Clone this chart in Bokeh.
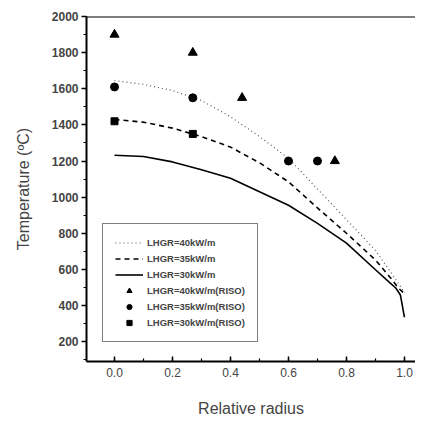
from bokeh.plotting import figure
from bokeh.models import Span, Legend, LegendItem, FixedTicker, PrintfTickFormatter
from bokeh.embed import file_html
from bokeh.resources import INLINE

# Model curves (relative radius vs temperature)
r40 = [0.0, 0.1, 0.2, 0.3, 0.4, 0.5, 0.6, 0.7, 0.8, 0.9, 0.95, 0.98, 1.0]
t40 = [1645, 1624, 1590, 1535, 1445, 1335, 1215, 1045, 875, 705, 590, 520, 470]

r35 = [0.0, 0.1, 0.2, 0.3, 0.4, 0.5, 0.6, 0.7, 0.8, 0.9, 0.95, 0.98, 1.0]
t35 = [1430, 1415, 1382, 1335, 1277, 1190, 1085, 940, 800, 652, 557, 495, 465]

r30 = [0.0, 0.1, 0.2, 0.3, 0.4, 0.5, 0.6, 0.7, 0.8, 0.9, 0.95, 0.97, 0.986, 0.997, 1.0]
t30 = [1232, 1225, 1195, 1152, 1105, 1030, 955, 855, 745, 598, 525, 497, 458, 360, 335]

# RISO measurements
x40m = [0.0, 0.27, 0.44, 0.76]
y40m = [1900, 1800, 1550, 1200]
x35m = [0.0, 0.27, 0.60, 0.70]
y35m = [1610, 1550, 1200, 1200]
x30m = [0.0, 0.27]
y30m = [1420, 1350]

xticks = [0.0, 0.2, 0.4, 0.6, 0.8, 1.0]
yticks = [200, 400, 600, 800, 1000, 1200, 1400, 1600, 1800, 2000]

labels = ["LHGR=40kW/m", "LHGR=35kW/m", "LHGR=30kW/m",
          "LHGR=40kW/m(RISO)", "LHGR=35kW/m(RISO)", "LHGR=30kW/m(RISO)"]

FONT = "Liberation Sans"

p = figure(width=415, height=419, output_backend="svg", toolbar_location=None,
           x_range=(-0.0966, 1.038), y_range=(90, 2000),
           min_border_left=86, min_border_right=0, min_border_top=16, min_border_bottom=57)
p.outline_line_color = None
p.xgrid.visible = False
p.ygrid.visible = False

l40 = p.line(r40, t40, line_color="#555555", line_width=1.2, line_dash="1 3")
l35 = p.line(r35, t35, line_color="black", line_width=1.6, line_dash="5 4")
l30 = p.line(r30, t30, line_color="black", line_width=1.6)
m40 = p.scatter(x40m, y40m, marker="triangle", size=9, color="black")
m35 = p.scatter(x35m, y35m, marker="circle", size=8, color="black")
m30 = p.scatter(x30m, y30m, marker="square", size=7, color="black")

p.add_layout(Span(location=2000, dimension="width", line_color="black", line_width=2))

p.xaxis.ticker = FixedTicker(ticks=xticks, minor_ticks=[x / 10 for x in range(-1, 11)])
p.yaxis.ticker = FixedTicker(ticks=yticks, minor_ticks=list(range(100, 2001, 100)))
p.xaxis.formatter = PrintfTickFormatter(format="%.1f")

for ax in (p.xaxis, p.yaxis):
    ax.axis_line_width = 2
    ax.major_tick_line_width = 1.5
    ax.minor_tick_line_width = 1.2
    ax.major_label_text_font = FONT
    ax.major_label_text_font_style = "bold"
    ax.axis_label_text_font = FONT
    ax.axis_label_text_font_style = "normal"
    ax.axis_label_text_font_size = "16px"

p.xaxis.major_label_text_font_size = "12px"
p.xaxis.major_label_text_font_style = "normal"
p.yaxis.major_label_text_font_size = "12px"

p.xaxis.major_tick_in = 5
p.xaxis.major_tick_out = 0
p.xaxis.minor_tick_in = 3
p.xaxis.minor_tick_out = 0
p.xaxis.major_label_standoff = 6
p.xaxis.axis_label = "Relative radius"
p.xaxis.axis_label_standoff = 20

p.yaxis.major_tick_in = 0
p.yaxis.major_tick_out = 5
p.yaxis.minor_tick_in = 0
p.yaxis.minor_tick_out = 3
p.yaxis.major_label_standoff = 3
p.yaxis.axis_label = "Temperature (ºC)"
p.yaxis.axis_label_standoff = 17

legend = Legend(items=[LegendItem(label=labels[0], renderers=[l40]),
                       LegendItem(label=labels[1], renderers=[l35]),
                       LegendItem(label=labels[2], renderers=[l30]),
                       LegendItem(label=labels[3], renderers=[m40]),
                       LegendItem(label=labels[4], renderers=[m35]),
                       LegendItem(label=labels[5], renderers=[m30])],
                location=(16, 19))
legend.border_line_color = "black"
legend.border_line_width = 1.5
legend.background_fill_alpha = 1
legend.label_text_font = FONT
legend.label_text_font_style = "bold"
legend.label_text_font_size = "9.5px"
legend.label_height = 13
legend.glyph_height = 13
legend.glyph_width = 28
legend.spacing = 3
legend.padding = 12
legend.margin = 0
legend.label_standoff = 4
p.add_layout(legend, "center")

open("out.html", "w").write(file_html(p, INLINE))
